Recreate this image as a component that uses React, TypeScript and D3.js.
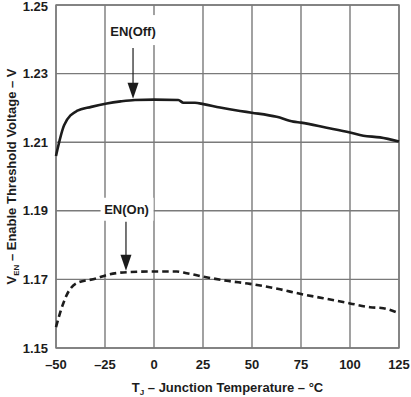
import React from "react";
import * as d3 from "d3";

const tempTicks = [-50, -25, 0, 25, 50, 75, 100, 125];
const voltTicks = [1.15, 1.17, 1.19, 1.21, 1.23, 1.25];

const offTemp = [-50, -45.8, -39.4, -32, -24.1, -17, -9.7, 0, 12.4, 15, 20.9, 25.2, 33.7, 43.9, 49.9, 62.6, 71.1, 75, 88.1, 100, 106.8, 115.3, 125];
const offVolt = [1.206, 1.215, 1.2191, 1.2203, 1.2213, 1.2219, 1.2223, 1.2224, 1.2223, 1.2215, 1.2215, 1.2211, 1.2201, 1.2191, 1.2186, 1.2174, 1.216, 1.2157, 1.2142, 1.2128, 1.2119, 1.2114, 1.2102];

const onTemp = [-50, -48, -44.5, -39.4, -29.2, -24.1, -13.9, -2, 11.6, 16.7, 25.2, 37.1, 49, 64.3, 74.5, 86.4, 100, 110.2, 117, 125];
const onVolt = [1.1561, 1.1601, 1.1655, 1.1689, 1.1703, 1.1713, 1.1721, 1.1723, 1.1723, 1.1718, 1.1708, 1.1696, 1.1687, 1.1671, 1.1658, 1.1645, 1.163, 1.1619, 1.1616, 1.1601];

const labels = ["EN(Off)", "EN(On)"];
const labelTemp = [-10.7, -14];
const labelVolt = [1.2424, 1.1906];
const arrowTipVolt = [1.2224, 1.1722];

const W = 411, H = 397;
const L = 56, R = 399, T = 5, B = 348;
const grid = "#7a7a7a";
const ink = "#1c1c1c";
const font = "'Liberation Sans', Arial, sans-serif";

export default function App() {
  const x = d3.scaleLinear().domain([-50, 125]).range([L, R]);
  const y = d3.scaleLinear().domain([1.15, 1.25]).range([B, T]);
  const line = d3.line<[number, number]>().x(d => x(d[0])).y(d => y(d[1])).curve(d3.curveMonotoneX);
  const offPts = offTemp.map((t, i) => [t, offVolt[i]] as [number, number]);
  const onPts = onTemp.map((t, i) => [t, onVolt[i]] as [number, number]);

  return (
    <svg width={W} height={H} style={{ position: "absolute", left: 0, top: 0, background: "#fff" }} fontFamily={font}>
      <rect x={0} y={0} width={W} height={H} fill="#fff" />
      {tempTicks.map(t => (
        <line key={"vx" + t} x1={x(t)} x2={x(t)} y1={T} y2={B} stroke={grid} strokeWidth={1.4} />
      ))}
      {voltTicks.map(v => (
        <line key={"hy" + v} x1={L} x2={R} y1={y(v)} y2={y(v)} stroke={grid} strokeWidth={1.4} />
      ))}
      <rect x={L} y={T} width={R - L} height={B - T} fill="none" stroke={grid} strokeWidth={1.4} />

      <rect x={x(labelTemp[0]) - 27} y={y(labelVolt[0]) - 16} width={54} height={30} fill="#fff" />
      <rect x={x(labelTemp[1]) - 26} y={y(labelVolt[1]) - 11} width={53} height={23} fill="#fff" />

      <path d={line(offPts) || ""} fill="none" stroke={ink} strokeWidth={2.6} strokeLinejoin="round" />
      <path d={line(onPts) || ""} fill="none" stroke={ink} strokeWidth={2.6} strokeDasharray="6.5,4" />

      {labels.map((lab, i) => {
        const cx = x(labelTemp[i]);
        const cy = y(labelVolt[i]);
        const ax = i === 0 ? x(-10.7) : x(-14.3);
        const start = i === 0 ? cy + 17 : cy + 13;
        const tip = y(arrowTipVolt[i]) - 1;
        return (
          <g key={lab}>
            <text x={cx} y={cy + 5} textAnchor="middle" fontSize={13} fontWeight="bold" fill={ink}>{lab}</text>
            <line x1={ax} x2={ax} y1={start} y2={tip - 14} stroke={ink} strokeWidth={1.2} />
            <path d={`M${ax - 5.5},${tip - 16} L${ax + 5.5},${tip - 16} L${ax},${tip} Z`} fill={ink} />
          </g>
        );
      })}

      {voltTicks.map(v => (
        <text key={"yl" + v} x={48} y={Math.max(y(v) + 4.6, 10.8)} textAnchor="end" fontSize={13} fontWeight="bold" fill={ink}>{v.toFixed(2)}</text>
      ))}
      {tempTicks.map(t => (
        <text key={"xl" + t} x={x(t)} y={369} textAnchor="middle" fontSize={13} fontWeight="bold" fill={ink}>{t < 0 ? "–" + Math.abs(t) : String(t)}</text>
      ))}

      <text x={(L + R) / 2} y={392} textAnchor="middle" fontSize={13} fontWeight="bold" fill={ink}>
        T<tspan fontSize={8} dy={3}>J</tspan><tspan dy={-3}> – Junction Temperature – °C</tspan>
      </text>
      <text transform={`translate(16,${(T + B) / 2}) rotate(-90)`} textAnchor="middle" fontSize={13} fontWeight="bold" fill={ink}>
        V<tspan fontSize={8} dy={3}>EN</tspan><tspan dy={-3}> – Enable Threshold Voltage – V</tspan>
      </text>
    </svg>
  );
}
